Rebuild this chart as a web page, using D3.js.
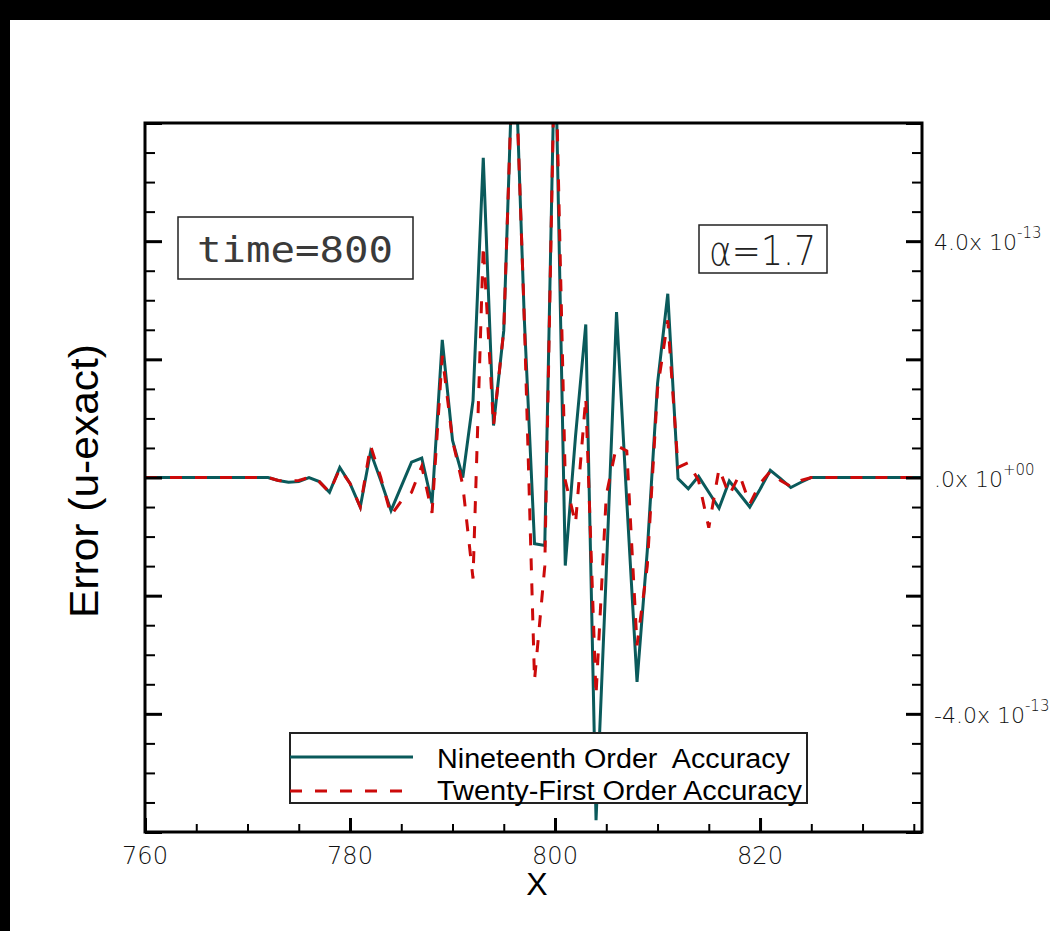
<!DOCTYPE html>
<html>
<head>
<meta charset="utf-8">
<script src="https://cdn.jsdelivr.net/npm/d3@7"></script>
<style>
  html, body { margin: 0; padding: 0; background: #000; }
  svg { display: block; }
</style>
</head>
<body>
<svg id="chart" width="1050" height="931"></svg>
<script>
// Sample positions along X (flat zero stretches are covered by their end points)
const xPositions = [760, 772, 773, 774, 775, 776, 777, 778, 779, 780, 781, 782, 783, 784, 785,
  786, 787, 788, 789, 790, 791, 792, 793, 794, 795, 796, 797, 798, 799, 800, 801, 802, 803,
  804, 805, 806, 807, 808, 809, 810, 811, 812, 813, 814, 815, 816, 817, 818, 819, 820, 821,
  822, 823, 824, 825, 835.8];

// Error values, in units of 1e-13
const nineteenthOrder = [0, 0, -0.05, -0.08, -0.07, 0.0, -0.07, -0.25, 0.17, -0.1, -0.5, 0.43,
  -0.05, -0.56, -0.15, 0.26, 0.33, -0.44, 2.33, 0.63, 0.0, 1.3, 5.41, 0.88, 2.49, 7.8, 2.7,
  -1.12, -1.15, 7.6, -1.49, 0.7, 2.59, -5.8, -1.6, 2.8, -0.4, -3.46, -1.24, 1.59, 3.11, -0.02,
  -0.19, 0.02, -0.25, -0.52, -0.06, -0.28, -0.5, -0.2, 0.12, -0.02, -0.17, -0.08, 0, 0];

const twentyFirstOrder = [0, 0, -0.05, -0.06, -0.05, 0.0, -0.07, -0.25, 0.15, -0.1, -0.5, 0.54,
  0.0, -0.64, -0.4, -0.25, 0.19, -0.6, 2.06, 0.63, -0.13, -1.71, 3.93, 0.88, 2.49, 7.8, 2.7,
  -3.43, -1.5, 7.6, -0.05, -0.78, 1.35, -3.69, -0.3, 0.54, 0.45, -2.84, -1.5, 1.5, 2.66, 0.17,
  0.25, -0.05, -0.85, 0.15, -0.3, 0.05, -0.45, -0.1, 0.1, -0.05, -0.15, -0.05, 0, 0];

const seriesNames = ["Nineteenth Order  Accuracy", "Twenty-First Order Accuracy"];

// Axis ticks
const xMajorTicks = [760, 780, 800, 820];
const xMinorTicks = [765, 770, 775, 785, 790, 795, 805, 810, 815, 825, 830, 835];
const xTickLabels = ["760", "780", "800", "820"];
const yMajorTicks = [-6, -4, -2, 0, 2, 4, 6];
const yMinorTicks = [-5.5, -5, -4.5, -3.5, -3, -2.5, -1.5, -1, -0.5,
  0.5, 1, 1.5, 2.5, 3, 3.5, 4.5, 5, 5.5];
const yLabelValues = [4, 0, -4];
const yLabelMantissa = ["4.0x 10", ".0x 10", "-4.0x 10"];
const yLabelExponent = ["-13", "+00", "-13"];

const svg = d3.select("#chart");

// page: black edge at top/left, white sheet
svg.append("rect").attr("x", 0).attr("y", 0).attr("width", 1050).attr("height", 931).attr("fill", "#000");
svg.append("rect").attr("x", 10).attr("y", 20).attr("width", 1040).attr("height", 911).attr("fill", "#fff");

const plot = { left: 145, right: 922, top: 123, bottom: 832 };

const x = d3.scaleLinear().domain([760, 835.8]).range([plot.left, plot.right]);
const y = d3.scaleLinear().domain([-6, 6]).range([plot.bottom, plot.top]);

svg.append("defs").append("clipPath").attr("id", "plotClip")
  .append("rect")
  .attr("x", plot.left).attr("y", plot.top)
  .attr("width", plot.right - plot.left).attr("height", plot.bottom - plot.top);

const teal = "#0a5a5b";
const red = "#cc0a0a";

const line = d3.line().x(d => x(d[0])).y(d => y(d[1]));

const dataG = svg.append("g").attr("clip-path", "url(#plotClip)");
dataG.append("path")
  .datum(xPositions.map((v, i) => [v, nineteenthOrder[i]]))
  .attr("d", line)
  .attr("fill", "none").attr("stroke", teal).attr("stroke-width", 3)
  .attr("stroke-linejoin", "miter");
dataG.append("path")
  .datum(xPositions.map((v, i) => [v, twentyFirstOrder[i]]))
  .attr("d", line)
  .attr("fill", "none").attr("stroke", red).attr("stroke-width", 3)
  .attr("stroke-dasharray", "12,13");

// Axes with inward ticks
function styleAxis(g, width) {
  g.select(".domain").remove();
  g.selectAll(".tick line").attr("stroke", "#000").attr("stroke-width", width);
  g.selectAll(".tick text").remove();
}

svg.append("g").attr("transform", `translate(0,${plot.bottom})`)
  .call(d3.axisBottom(x).tickValues(xMajorTicks).tickSize(-14).tickFormat(""))
  .call(g => styleAxis(g, 3));
svg.append("g").attr("transform", `translate(0,${plot.bottom})`)
  .call(d3.axisBottom(x).tickValues(xMinorTicks).tickSize(-8).tickFormat(""))
  .call(g => styleAxis(g, 2));

svg.append("g").attr("transform", `translate(${plot.left},0)`)
  .call(d3.axisLeft(y).tickValues(yMajorTicks).tickSize(-17).tickFormat(""))
  .call(g => styleAxis(g, 3));
svg.append("g").attr("transform", `translate(${plot.left},0)`)
  .call(d3.axisLeft(y).tickValues(yMinorTicks).tickSize(-10).tickFormat(""))
  .call(g => styleAxis(g, 2));

svg.append("g").attr("transform", `translate(${plot.right},0)`)
  .call(d3.axisRight(y).tickValues(yMajorTicks).tickSize(-16).tickFormat(""))
  .call(g => styleAxis(g, 3));
svg.append("g").attr("transform", `translate(${plot.right},0)`)
  .call(d3.axisRight(y).tickValues(yMinorTicks).tickSize(-10).tickFormat(""))
  .call(g => styleAxis(g, 2));

// frame
svg.append("rect")
  .attr("x", plot.left).attr("y", plot.top)
  .attr("width", plot.right - plot.left).attr("height", plot.bottom - plot.top)
  .attr("fill", "none").attr("stroke", "#000").attr("stroke-width", 3);

const thinFont = "'DejaVu Sans', 'Liberation Sans', sans-serif";

// X tick labels
svg.append("g").selectAll("text").data(xMajorTicks).join("text")
  .attr("x", d => x(d)).attr("y", 864)
  .attr("text-anchor", "middle")
  .attr("font-family", thinFont).attr("font-weight", 200)
  .attr("font-size", 25).attr("fill", "#111")
  .attr("textLength", 46).attr("lengthAdjust", "spacingAndGlyphs")
  .text((d, i) => xTickLabels[i]);

// Y labels on the right side
const yl = svg.append("g").selectAll("text").data(yLabelValues).join("text")
  .attr("x", 934).attr("y", d => y(d) + 9)
  .attr("font-family", thinFont).attr("font-weight", 200)
  .attr("font-size", 22).attr("fill", "#111");
yl.append("tspan").text((d, i) => yLabelMantissa[i]);
yl.append("tspan").attr("font-size", 15).attr("dy", -12).text((d, i) => yLabelExponent[i]);

// Axis titles
svg.append("text")
  .attr("x", 537).attr("y", 895)
  .attr("text-anchor", "middle")
  .attr("font-family", "'Liberation Sans', Arial, sans-serif")
  .attr("font-size", 32).attr("fill", "#000")
  .text("X");

svg.append("text")
  .attr("transform", "translate(98,481) rotate(-90)")
  .attr("text-anchor", "middle")
  .attr("font-family", "'Liberation Sans', Arial, sans-serif")
  .attr("font-size", 40).attr("fill", "#000")
  .attr("textLength", 274).attr("lengthAdjust", "spacingAndGlyphs")
  .text("Error (u-exact)");

// Annotation boxes
svg.append("rect").attr("x", 178).attr("y", 217).attr("width", 235).attr("height", 62)
  .attr("fill", "#fff").attr("stroke", "#222").attr("stroke-width", 1.5);
svg.append("text").attr("x", 197).attr("y", 262)
  .attr("font-family", "'DejaVu Sans Mono', 'Liberation Mono', monospace")
  .attr("font-weight", 200)
  .attr("font-size", 36).attr("fill", "#3a3a3a")
  .attr("textLength", 196).attr("lengthAdjust", "spacingAndGlyphs")
  .text("time=800");

svg.append("rect").attr("x", 699).attr("y", 225).attr("width", 128).attr("height", 48)
  .attr("fill", "#fff").attr("stroke", "#222").attr("stroke-width", 1.5);
svg.append("text").attr("x", 709).attr("y", 265)
  .attr("font-family", thinFont).attr("font-weight", 200)
  .attr("font-size", 40).attr("fill", "#222")
  .attr("textLength", 107).attr("lengthAdjust", "spacingAndGlyphs")
  .text("α=1.7");

// Legend
const legend = svg.append("g");
legend.append("rect").attr("x", 290).attr("y", 733).attr("width", 517).attr("height", 70)
  .attr("fill", "#fff").attr("stroke", "#222").attr("stroke-width", 2);
legend.append("line").attr("x1", 290).attr("x2", 413).attr("y1", 757).attr("y2", 757)
  .attr("stroke", teal).attr("stroke-width", 3);
legend.append("line").attr("x1", 290).attr("x2", 403).attr("y1", 791).attr("y2", 791)
  .attr("stroke", red).attr("stroke-width", 3).attr("stroke-dasharray", "12,13");
const legendWidths = [353, 365];
legend.selectAll("text.name").data(seriesNames).join("text")
  .attr("class", "name")
  .attr("x", 437).attr("y", (d, i) => 768 + i * 32)
  .attr("font-family", "'Liberation Sans', Arial, sans-serif")
  .attr("font-size", 27).attr("fill", "#000")
  .attr("xml:space", "preserve")
  .style("white-space", "pre")
  .attr("textLength", (d, i) => legendWidths[i]).attr("lengthAdjust", "spacingAndGlyphs")
  .text(d => d);
</script>
</body>
</html>
